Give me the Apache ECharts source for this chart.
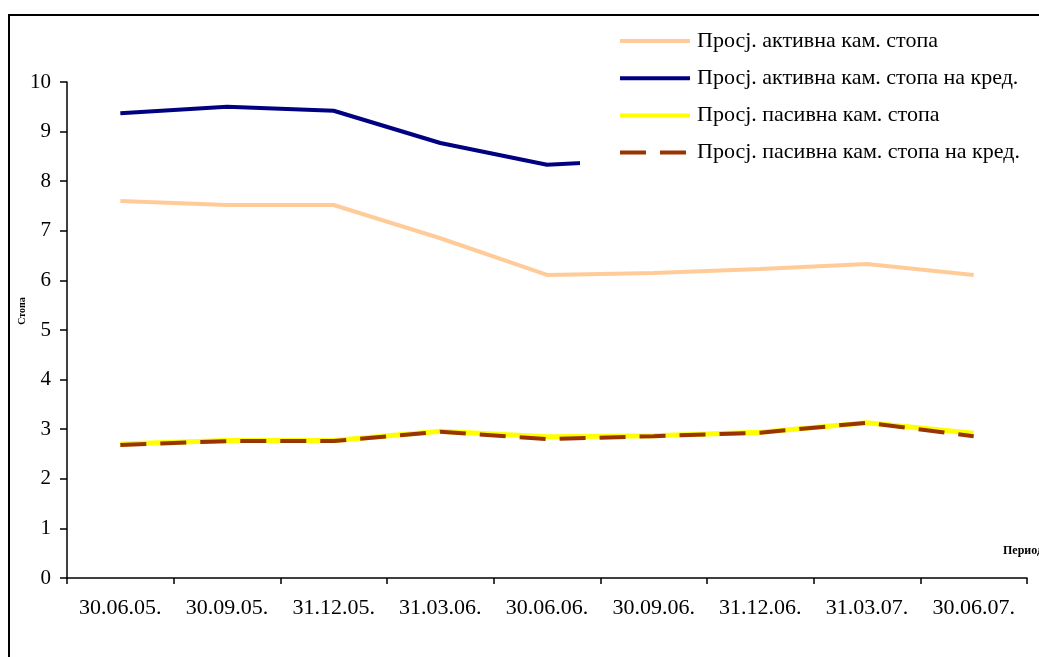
<!DOCTYPE html>
<html>
<head>
<meta charset="utf-8">
<script src="https://cdn.jsdelivr.net/npm/echarts@6/dist/echarts.min.js"></script>
<style>
  html, body { margin: 0; padding: 0; background: #fff; }
  #chart { width: 1039px; height: 657px; }
</style>
</head>
<body>
<div id="chart"></div>
<script>
// Quarter-end dates
const periods = ['30.06.05.', '30.09.05.', '31.12.05.', '31.03.06.', '30.06.06.', '30.09.06.', '31.12.06.', '31.03.07.', '30.06.07.'];

// Average interest rates, %
const activeRate       = [7.60, 7.52, 7.52, 6.85, 6.11, 6.15, 6.23, 6.33, 6.11];
const activeCreditRate = [9.37, 9.50, 9.42, 8.77, 8.33, 8.44, 8.50, 8.60, 8.45];
const passiveRate      = [2.70, 2.77, 2.77, 2.96, 2.85, 2.87, 2.94, 3.13, 2.92];
const passiveCreditRate= [2.68, 2.76, 2.76, 2.95, 2.80, 2.86, 2.93, 3.13, 2.86];

const seriesNames = [
  'Просј. активна кам. стопа',
  'Просј. активна кам. стопа на кред.',
  'Просј. пасивна кам. стопа',
  'Просј. пасивна кам. стопа на кред.'
];

const yTicks = { min: 0, max: 10, interval: 1 };

const serif = '"Liberation Serif", "DejaVu Serif", serif';

const chart = echarts.init(document.getElementById('chart'), null, { renderer: 'canvas' });

chart.setOption({
  animation: false,
  backgroundColor: '#fff',
  grid: { left: 67, right: 12, top: 82, bottom: 79, containLabel: false },
  legend: {
    orient: 'vertical',
    left: 580,
    top: 19,
    padding: [11, 60, 20, 38],
    backgroundColor: '#fff',
    itemWidth: 70,
    itemHeight: 14,
    itemGap: 15.2,
    data: seriesNames,
    lineStyle: { width: 4 },
    itemStyle: { opacity: 0, borderWidth: 0 },
    textStyle: { fontFamily: serif, fontSize: 22, color: '#000', lineHeight: 22, padding: [0, 0, 0, 2] },
    z: 10
  },
  xAxis: {
    type: 'category',
    data: periods,
    boundaryGap: true,
    axisLine: { lineStyle: { color: '#000', width: 1.5 } },
    axisTick: { show: true, alignWithLabel: false, inside: false, length: 6, lineStyle: { color: '#000', width: 1.5 } },
    axisLabel: { fontFamily: serif, fontSize: 22, color: '#000', margin: 19, interval: 0 },
    splitLine: { show: false }
  },
  yAxis: {
    type: 'value',
    min: yTicks.min,
    max: yTicks.max,
    interval: yTicks.interval,
    axisLine: { show: true, lineStyle: { color: '#000', width: 1.5 } },
    axisTick: { show: true, inside: false, length: 7, lineStyle: { color: '#000', width: 1.5 } },
    axisLabel: { fontFamily: serif, fontSize: 21, color: '#000', margin: 16 },
    splitLine: { show: false }
  },
  series: [
    {
      name: seriesNames[0], type: 'line', data: activeRate, symbol: 'none',
      lineStyle: { color: '#FFCC99', width: 4 }, itemStyle: { color: '#FFCC99' }, z: 2
    },
    {
      name: seriesNames[1], type: 'line', data: activeCreditRate, symbol: 'none',
      lineStyle: { color: '#000080', width: 4 }, itemStyle: { color: '#000080' }, z: 2
    },
    {
      name: seriesNames[2], type: 'line', data: passiveRate, symbol: 'none',
      lineStyle: { color: '#FFFF00', width: 5 }, itemStyle: { color: '#FFFF00' }, z: 2
    },
    {
      name: seriesNames[3], type: 'line', data: passiveCreditRate, symbol: 'none',
      lineStyle: { color: '#993300', width: 4, type: [26, 14] }, itemStyle: { color: '#993300' }, z: 3
    }
  ],
  graphic: [
    {
      type: 'rect', silent: true, z: 100,
      shape: { x: 9, y: 15, width: 1200, height: 800 },
      style: { fill: 'none', stroke: '#000', lineWidth: 2 }
    },
    {
      type: 'text', silent: true, z: 100,
      x: 22, y: 311, rotation: Math.PI / 2,
      style: { text: 'Стопа', font: 'bold 10px ' + serif, fill: '#000', align: 'center', verticalAlign: 'middle' }
    },
    {
      type: 'text', silent: true, z: 100,
      x: 1003, y: 551,
      style: { text: 'Период', font: 'bold 12px ' + serif, fill: '#000', align: 'left', verticalAlign: 'middle' }
    }
  ]
});
</script>
</body>
</html>
